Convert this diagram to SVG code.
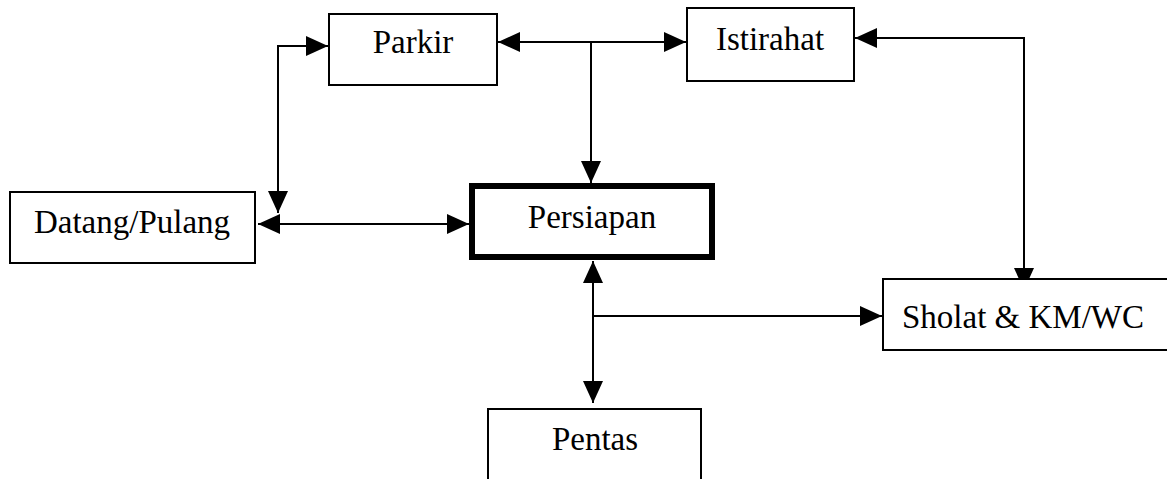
<svg xmlns="http://www.w3.org/2000/svg" width="1167" height="479" viewBox="0 0 1167 479">
  <style>
    .box { fill: #fff; stroke: #000; stroke-width: 2; }
    .main { fill: #fff; stroke: #000; stroke-width: 6; }
    .label { font-family: "Liberation Serif", "Times New Roman", serif; font-size: 33px; fill: #000; text-anchor: middle; }
    .link { fill: none; stroke: #000; stroke-width: 2; }
    .both { marker-start: url(#arrow); marker-end: url(#arrow); }
    .end { marker-end: url(#arrow); }
  </style>
  <defs>
    <marker id="arrow" markerUnits="userSpaceOnUse" markerWidth="22" markerHeight="20" refX="22" refY="10" orient="auto-start-reverse" viewBox="0 0 22 20">
      <path d="M0,0 L22,10 L0,20 Z" fill="#000"/>
    </marker>
  </defs>
  <rect width="1167" height="479" fill="#fff"/>

  <g id="connectors">
    <polyline class="link both" points="328,46 278,46 278,213"/>
    <line class="link both" x1="498" y1="42" x2="686" y2="42"/>
    <line class="link end" x1="591" y1="42" x2="591" y2="183"/>
    <polyline class="link both" points="855,38 1024,38 1024,290"/>
    <line class="link both" x1="258" y1="224" x2="469" y2="224"/>
    <line class="link both" x1="593" y1="261" x2="593" y2="403"/>
    <line class="link end" x1="593" y1="316" x2="882" y2="316"/>
  </g>

  <g id="parkir">
    <rect class="box" x="329" y="14" width="168" height="71"/>
    <text class="label" x="413" y="53">Parkir</text>
  </g>
  <g id="istirahat">
    <rect class="box" x="687" y="8" width="167" height="73"/>
    <text class="label" x="770" y="50">Istirahat</text>
  </g>
  <g id="datang-pulang">
    <rect class="box" x="10" y="192" width="245" height="71"/>
    <text class="label" x="132" y="233">Datang/Pulang</text>
  </g>
  <g id="persiapan">
    <rect class="main" x="472" y="186" width="240" height="71"/>
    <text class="label" x="592" y="228">Persiapan</text>
  </g>
  <g id="sholat">
    <rect class="box" x="883" y="279" width="300" height="71"/>
    <text class="label" x="1023" y="328">Sholat &amp; KM/WC</text>
  </g>
  <g id="pentas">
    <rect class="box" x="488" y="409" width="213" height="80"/>
    <text class="label" x="595" y="450">Pentas</text>
  </g>
</svg>
